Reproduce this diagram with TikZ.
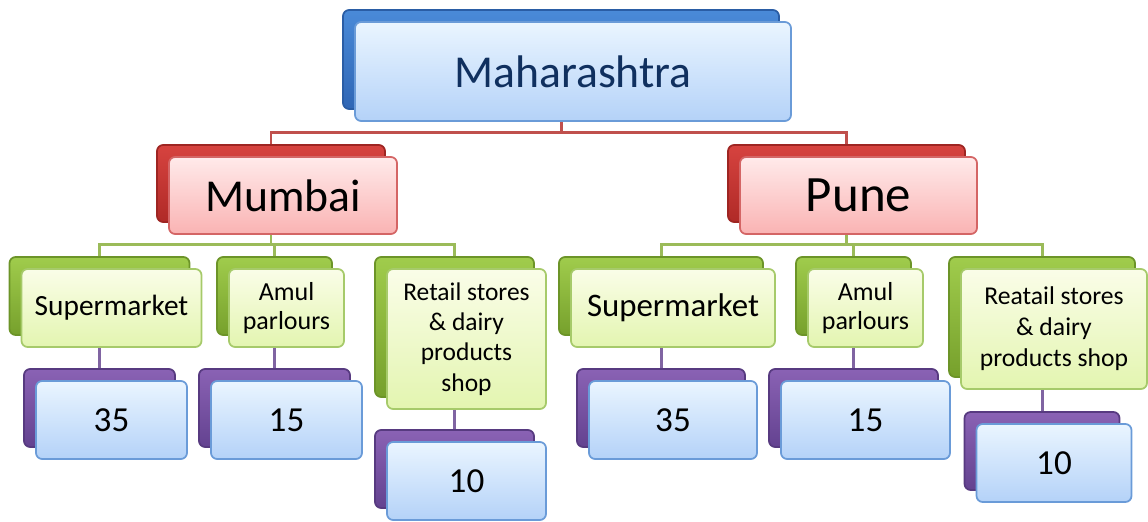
\documentclass[tikz,border=0pt]{standalone}
\usepackage{fontspec}
\setmainfont{Carlito}

% theme accents
\definecolor{acRed}{HTML}{C0504D}
\definecolor{acGreen}{HTML}{9BBB59}
\definecolor{acPurple}{HTML}{8064A2}
% rear box shades
\definecolor{blueTop}{HTML}{4A8AD8}
\definecolor{blueBot}{HTML}{2F66B5}
\definecolor{blueEdge}{HTML}{2A5DA5}
\definecolor{redTop}{HTML}{D6433F}
\definecolor{redBot}{HTML}{B02A27}
\definecolor{redEdge}{HTML}{9E2522}
\definecolor{greenTop}{HTML}{A0CC4C}
\definecolor{greenBot}{HTML}{76A02C}
\definecolor{greenEdge}{HTML}{6C9428}
\definecolor{purpleTop}{HTML}{8A62B4}
\definecolor{purpleBot}{HTML}{634290}
\definecolor{purpleEdge}{HTML}{573A80}
% front box fills
\definecolor{navy}{HTML}{10305F}
\definecolor{skyTop}{HTML}{EAF5FF}
\definecolor{skyBot}{HTML}{B4D2F8}
\definecolor{skyLine}{HTML}{6A9BD8}
\definecolor{pinkTop}{HTML}{FFEAEA}
\definecolor{pinkBot}{HTML}{FAB3B3}
\definecolor{pinkLine}{HTML}{D46565}
\definecolor{limeTop}{HTML}{FAFDE8}
\definecolor{limeBot}{HTML}{E3F5B0}
\definecolor{limeLine}{HTML}{A6CA6A}

\begin{document}
\begin{tikzpicture}[x=0.02cm, y=0.02cm,
  box/.style={rounded corners=3.5pt, line width=1pt, inner sep=1pt, align=center},
  dims/.style 2 args={minimum width=#1*0.02cm, minimum height=#2*0.02cm},
  backbox/.style={box, draw=#1Edge, top color=#1Top, bottom color=#1Bot},
  skybox/.style={box, draw=skyLine, top color=skyTop, bottom color=skyBot},
  pinkbox/.style={box, draw=pinkLine, top color=pinkTop, bottom color=pinkBot},
  limebox/.style={box, draw=limeLine, top color=limeTop, bottom color=limeBot},
  link/.style={line width=1.7pt, #1}]
  \useasboundingbox (0,0) rectangle (1148,-521);

  % rear boxes
  \node[backbox=blue, dims={436}{99}] (mh-b) at (561,-59.5) {};
  \node[backbox=red, dims={228}{77}] (mum-b) at (271,-183.5) {};
  \node[backbox=red, dims={237}{77}] (pun-b) at (846.5,-183.5) {};
  \node[backbox=green, dims={180}{78}] (sm1-b) at (99.5,-296) {};
  \node[backbox=green, dims={115}{78}] (am1-b) at (274.5,-296) {};
  \node[backbox=green, dims={159}{140}] (rt1-b) at (454.5,-327) {};
  \node[backbox=green, dims={204}{78}] (sm2-b) at (661,-296) {};
  \node[backbox=green, dims={115}{78}] (am2-b) at (853.5,-296) {};
  \node[backbox=green, dims={186}{120}] (rt2-b) at (1042,-317) {};
  \node[backbox=purple, dims={151}{78}] (n1-b) at (99.5,-408) {};
  \node[backbox=purple, dims={151}{78}] (n2-b) at (274.5,-408) {};
  \node[backbox=purple, dims={159}{78}] (n3-b) at (454.5,-469) {};
  \node[backbox=purple, dims={168}{78}] (n4-b) at (661,-408) {};
  \node[backbox=purple, dims={169}{78}] (n5-b) at (853.5,-408) {};
  \node[backbox=purple, dims={155}{78}] (n6-b) at (1042,-451) {};

  % connectors
  \draw[link=acRed] (mum-b.north) -- ++(0,11.5) -| (mh-b.south);
  \draw[link=acRed] (pun-b.north) -- ++(0,11.5) -| (mh-b.south);
  \foreach \c in {sm1,am1,rt1}
    \draw[link=acGreen] (\c-b.north) -- ++(0,11.5) -| (mum-b.south);
  \foreach \c in {sm2,am2,rt2}
    \draw[link=acGreen] (\c-b.north) -- ++(0,11.5) -| (pun-b.south);
  \draw[link=acPurple] (sm1-b.south) -- (n1-b.north);
  \draw[link=acPurple] (am1-b.south) -- (n2-b.north);
  \draw[link=acPurple] (rt1-b.south) -- (n3-b.north);
  \draw[link=acPurple] (sm2-b.south) -- (n4-b.north);
  \draw[link=acPurple] (am2-b.south) -- (n5-b.north);
  \draw[link=acPurple] (rt2-b.south) -- (n6-b.north);

  % front boxes with the labels
  \node[skybox, dims={436}{99}, text=navy, font=\fontsize{26}{31}\selectfont]
    (mh) at ([shift={(12,-12)}]mh-b.center) {Maharashtra};
  \node[pinkbox, dims={228}{77}, font=\fontsize{26}{31}\selectfont]
    (mum) at ([shift={(12,-12)}]mum-b.center) {Mumbai};
  \node[pinkbox, dims={237}{77}, font=\fontsize{29}{34}\selectfont]
    (pun) at ([shift={(12,-12)}]pun-b.center) {Pune};
  \node[limebox, dims={180}{78}, font=\fontsize{16.7}{20}\selectfont]
    (sm1) at ([shift={(12,-12)}]sm1-b.center) {Supermarket};
  \node[limebox, dims={115}{78}, font=\fontsize{14.8}{16.6}\selectfont]
    (am1) at ([shift={(12,-12)}]am1-b.center) {Amul\\parlours};
  \node[limebox, dims={159}{140}, font=\fontsize{14.5}{17.3}\selectfont]
    (rt1) at ([shift={(12,-12)}]rt1-b.center) {Retail stores\\\& dairy\\products\\shop};
  \node[limebox, dims={204}{78}, font=\fontsize{18.7}{22}\selectfont]
    (sm2) at ([shift={(12,-12)}]sm2-b.center) {Supermarket};
  \node[limebox, dims={115}{78}, font=\fontsize{14.8}{16.6}\selectfont]
    (am2) at ([shift={(12,-12)}]am2-b.center) {Amul\\parlours};
  \node[limebox, dims={186}{120}, font=\fontsize{14.6}{17.6}\selectfont]
    (rt2) at ([shift={(12,-12)}]rt2-b.center) {Reatail stores\\\& dairy\\products shop};
  \node[skybox, dims={151}{78}, font=\fontsize{20}{24}\selectfont]
    (n1) at ([shift={(12,-12)}]n1-b.center) {35};
  \node[skybox, dims={151}{78}, font=\fontsize{20}{24}\selectfont]
    (n2) at ([shift={(12,-12)}]n2-b.center) {15};
  \node[skybox, dims={159}{78}, font=\fontsize{20}{24}\selectfont]
    (n3) at ([shift={(12,-12)}]n3-b.center) {10};
  \node[skybox, dims={168}{78}, font=\fontsize{20}{24}\selectfont]
    (n4) at ([shift={(12,-12)}]n4-b.center) {35};
  \node[skybox, dims={169}{78}, font=\fontsize{20}{24}\selectfont]
    (n5) at ([shift={(12,-12)}]n5-b.center) {15};
  \node[skybox, dims={155}{78}, font=\fontsize{20}{24}\selectfont]
    (n6) at ([shift={(12,-12)}]n6-b.center) {10};
\end{tikzpicture}
\end{document}
